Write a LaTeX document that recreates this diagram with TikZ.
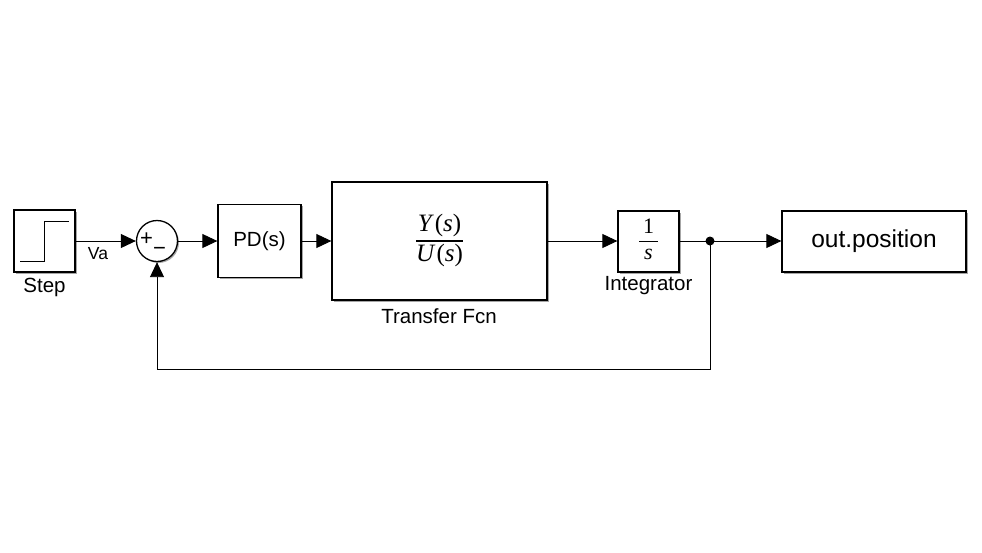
\documentclass[tikz,border=0pt]{standalone}
\usepackage{fontspec}
\setmainfont{Liberation Sans}
\newfontfamily\tmsfont{Liberation Serif}
\usetikzlibrary{arrows.meta,shadows}
\newcommand\vfrac[2]{{\setlength\arrayrulewidth{1.2pt}\renewcommand\arraystretch{1.0}\begin{tabular}{@{}c@{}}#1\\\hline #2\end{tabular}}}
\begin{document}
\begin{tikzpicture}[x=1pt,y=-1pt,
  blk/.style={draw, line width=1.3pt, fill=white, inner sep=0pt,
    drop shadow={shadow xshift=1.5pt,shadow yshift=-1.5pt,opacity=0.35,fill=black}},
  sig/.style={line width=0.9pt, -{Triangle[length=15pt,width=14pt]}},
  wire/.style={line width=0.9pt},
  lbl/.style={font=\fontsize{20.5}{24}\selectfont, inner sep=0pt}]
\useasboundingbox (0,0) rectangle (982,552);
% blocks
\node[blk, minimum width=61pt, minimum height=62pt] (step) at (44.5,241) {};
\draw[wire] (20,261) -- (44,261) -- (44,221) -- (69,221);
\node[lbl] (steplbl) at (44.5,287) {Step};
\node[circle, draw, line width=1.3pt, minimum size=41pt, inner sep=0pt, fill=white,
    drop shadow={shadow xshift=1.5pt,shadow yshift=-1.5pt,opacity=0.35,fill=black}] (sum) at (157,241) {};
\node[font=\fontsize{22}{26}\selectfont, inner sep=0pt] (plus) at (146.5,239) {+};
\node[font=\fontsize{22}{26}\selectfont, inner sep=0pt] (minus) at (159.5,251.5) {−};
\node[blk, minimum width=83pt, minimum height=73pt, font=\fontsize{20.5}{24}\selectfont] (pd) at (259.5,241) {PD(s)};
\node[blk, minimum width=215pt, minimum height=118pt, font=\tmsfont\fontsize{25}{29}\selectfont] (tf) at (439.5,241) {\vfrac{\textit{Y}\kern1pt(\textit{s})}{\textit{U}\kern1pt(\textit{s})}};
\node[lbl] (tflbl) at (439,316) {Transfer Fcn};
\node[blk, minimum width=61pt, minimum height=61pt, font=\tmsfont\fontsize{22}{25}\selectfont] (int) at (648.5,241.5) {\vfrac{\,1\,}{\,\textit{s}\,}};
\node[lbl] (intlbl) at (648.5,286) {Integrator};
\node[blk, minimum width=184pt, minimum height=61pt, font=\fontsize{24.5}{28}\selectfont] (out) at (874,241.5) {out.position};
\node[circle, fill, inner sep=0pt, minimum size=9pt] (dot) at (710,241) {};
\coordinate (fb) at (157,369);
\node[font=\fontsize{17.5}{20}\selectfont, inner sep=0pt] (va) at (98,254) {Va};
% connectors
\draw[sig] (step.east) -- (sum.west);
\draw[sig] (sum.east) -- (pd.west);
\draw[sig] (pd.east) -- (tf.west);
\draw[sig] (tf.east) -- (int.west |- tf.east);
\draw[wire] (int.east |- dot) -- (dot.center);
\draw[sig] (dot.center) -- (out.west |- dot);
\draw[sig] (dot.center) -- (dot.center |- fb) -- (fb) -- (sum.south);
\end{tikzpicture}
\end{document}
